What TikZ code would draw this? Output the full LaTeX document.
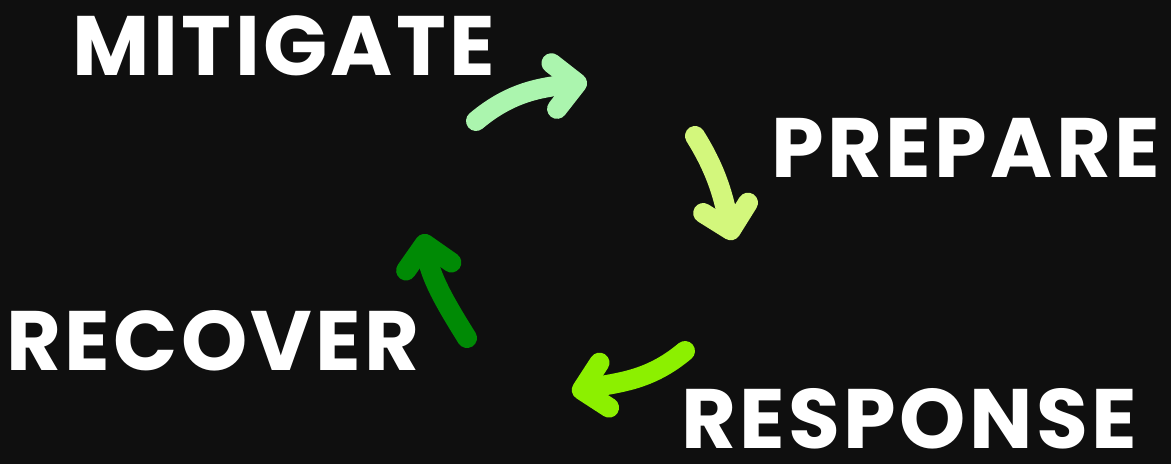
\documentclass[tikz,border=0pt]{standalone}
\usepackage{fontspec}
\setmainfont{Poppins}[LetterSpace=4]
\usetikzlibrary{arrows.meta}
\definecolor{bgblack}{HTML}{0F0F0F}
\definecolor{mintgreen}{HTML}{ABF5AE}
\definecolor{limeyellow}{HTML}{D3F77C}
\definecolor{brightgreen}{HTML}{8CF000}
\definecolor{darkgreen}{HTML}{008A05}
\begin{document}
\begin{tikzpicture}[x=0.02cm,y=0.02cm,every node/.style={text=white,inner sep=0pt,font=\fontsize{48}{48}\selectfont\bfseries},
	cyclearrow/.style={line width=0.4cm,line cap=round,-{Straight Barb[round,length=0.46cm,width=0.92cm]}}]

		%background
		\fill[bgblack] (0,0) rectangle (1171,464);

		%labels
		\node (mit) at (284,418) {MITIGATE};
		\node (pre) at (966,316) {PREPARE};
		\node (rec) at (213,123) {RECOVER};
		\node (res) at (909,45) {RESPONSE};

		%arrow ends
		\coordinate (a1) at (476,343);
		\coordinate (b1) at (587,382);
		\coordinate (a2) at (695,328);
		\coordinate (b2) at (733,224);
		\coordinate (a3) at (685,113);
		\coordinate (b3) at (572,72);
		\coordinate (a4) at (467,126);
		\coordinate (b4) at (423,230);

		%arrows
		\draw[cyclearrow,mintgreen] (a1) to[out=40,in=187] (b1);
		\draw[cyclearrow,limeyellow] (a2) to[out=-58,in=103] (b2);
		\draw[cyclearrow,brightgreen] (a3) to[out=220,in=12] (b3);
		\draw[cyclearrow,darkgreen] (a4) to[out=122,in=-80] (b4);
\end{tikzpicture}
\end{document}
